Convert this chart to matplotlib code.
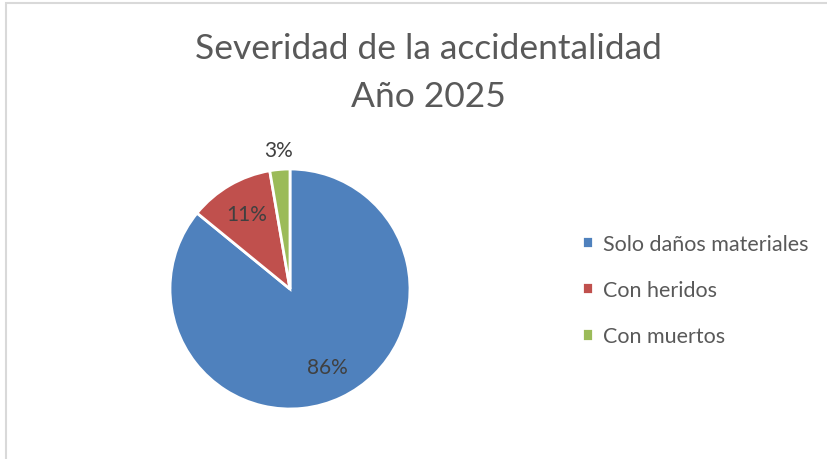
import numpy as np
import matplotlib
matplotlib.use("Agg")
import matplotlib.pyplot as plt
from matplotlib.patches import Rectangle

# ─────────────────────────────────────────────
# Data
# ─────────────────────────────────────────────

categories = ["Solo daños materiales", "Con heridos", "Con muertos"]
shares = [85.9, 11.4, 2.7]
colors = ["#4F81BD", "#C0504D", "#9BBB59"]
title_lines = ["Severidad de la accidentalidad", "Año 2025"]

plt.rcParams["font.family"] = ["Lato", "DejaVu Sans"]

fig = plt.figure(figsize=(8.27, 4.6), dpi=100)

# light chart-area border (runs past right/bottom edges)
fig.patches.append(Rectangle((6 / 827, -0.1), 1.0, (460 - 4) / 460 + 0.1,
                             transform=fig.transFigure, fill=False,
                             edgecolor="#D9D9D9", linewidth=1.5))

# pie axes: centre (290, 290) px, radius ~120 px
r = 120
cx, cy = 290, 290
ax = fig.add_axes([(cx - r) / 827, (460 - cy - r) / 460, 2 * r / 827, 2 * r / 460])

wedges, texts, autotexts = ax.pie(
    shares, colors=colors, startangle=90, counterclock=False,
    autopct="%1.0f%%", pctdistance=0.72,
    wedgeprops=dict(edgecolor="white", linewidth=2),
    textprops=dict(color="#404040", fontsize=15),
)
ax.set_xlim(-1.0, 1.0)
ax.set_ylim(-1.0, 1.0)
ax.set_aspect("equal")

# small slice label sits outside the pie
ang = 90 - 360 * (shares[0] + shares[1] + shares[2] / 2) / sum(shares)
autotexts[2].set_position((1.16 * np.cos(np.radians(ang)), 1.16 * np.sin(np.radians(ang))))
for t in autotexts:
    t.set_clip_on(False)

fig.text(428 / 827, 1 - 73 / 460, "\n".join(title_lines), ha="center", va="center",
         fontsize=25.5, color="#595959", linespacing=1.62)

fig.legend(wedges, categories, loc="center left",
           bbox_to_anchor=(563 / 827, 1 - 291 / 460), frameon=False,
           fontsize=15.5, labelcolor="#595959", handlelength=0.5, handleheight=0.5,
           handletextpad=0.45, labelspacing=1.22)

fig.savefig("out.png", dpi=100)
